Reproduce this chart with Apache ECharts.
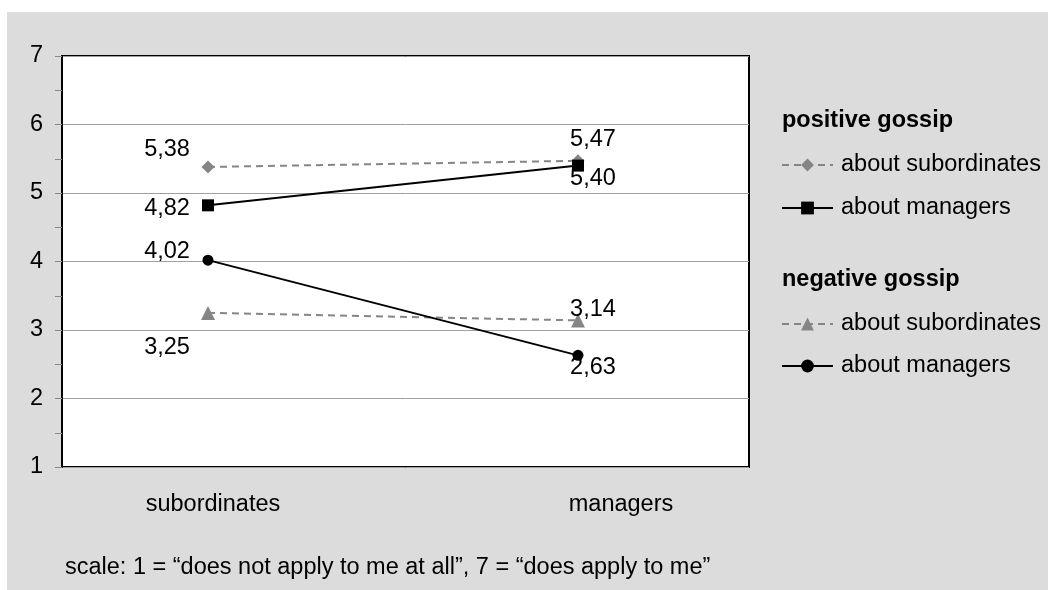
<!DOCTYPE html>
<html>
<head>
<meta charset="utf-8">
<script src="https://cdn.jsdelivr.net/npm/echarts@6/dist/echarts.min.js"></script>
<style>
  body { margin: 0; background: #fff; }
  #chart { position: absolute; left: 7px; top: 12px; width: 1041px; height: 578px; }
</style>
</head>
<body>
<div id="chart"></div>
<script>
// categories on the x axis
var categories = ["subordinates", "managers"];
// mean values per series (subordinates, managers)
var posAboutSubs = [5.38, 5.47];
var posAboutMgrs = [4.82, 5.40];
var negAboutSubs = [3.25, 3.14];
var negAboutMgrs = [4.02, 2.63];
var yTicks = [1, 2, 3, 4, 5, 6, 7];

var font = "Liberation Sans, Arial, sans-serif";
var fs = 23.5;

// label offsets (dx, dy) from each marker
var offPosSubs = [[-41, -17], [15, -21]];
var offPosMgrs = [[-41, 3], [15, 13]];
var offNegSubs = [[-41, 35], [15, -11]];
var offNegMgrs = [[-41, -9], [15, 12]];

function fmt(v) {
  return v.toFixed(2).replace(".", ",");
}

function points(vals, offs) {
  return vals.map(function (v, i) {
    return {
      value: [i, v],
      label: { offset: offs[i] }
    };
  });
}

function series(name, vals, offs, color, dashed, symbol, size) {
  return {
    type: "line",
    name: name,
    data: points(vals, offs),
    symbol: symbol,
    symbolSize: size,
    itemStyle: { color: color },
    lineStyle: { color: color, width: 2, type: dashed ? [7, 5] : "solid" },
    label: {
      show: true,
      position: "inside",
      color: "#000",
      fontFamily: font,
      fontSize: fs,
      formatter: function (p) { return fmt(p.value[1]); }
    },
    emphasis: { disabled: true },
    animation: false
  };
}

var chart = echarts.init(document.getElementById("chart"));

var legendText = { fontFamily: font, fontSize: fs, color: "#000", padding: [0, 0, 0, 3] };

var option = {
  backgroundColor: "#dcdcdc",
  textStyle: { fontFamily: font },
  title: [
    {
      text: "positive gossip",
      left: 770, top: 92,
      textStyle: { fontFamily: font, fontSize: fs, fontWeight: "bold", color: "#000" }
    },
    {
      text: "negative gossip",
      left: 770, top: 251,
      textStyle: { fontFamily: font, fontSize: fs, fontWeight: "bold", color: "#000" }
    },
    {
      text: "scale: 1 = \u201cdoes not apply to me at all\u201d, 7 = \u201cdoes apply to me\u201d",
      left: 53, top: 539,
      textStyle: { fontFamily: font, fontSize: fs, fontWeight: "normal", color: "#000" }
    }
  ],
  legend: [
    {
      orient: "vertical",
      left: 769, top: 136,
      itemWidth: 51, itemHeight: 16, itemGap: 19,
      data: ["pos|about subordinates", "pos|about managers"],
      formatter: function (n) { return n.split("|")[1]; },
      textStyle: legendText,
      selectedMode: false
    },
    {
      orient: "vertical",
      left: 769, top: 295,
      itemWidth: 51, itemHeight: 16, itemGap: 18,
      data: ["neg|about subordinates", "neg|about managers"],
      formatter: function (n) { return n.split("|")[1]; },
      textStyle: legendText,
      selectedMode: false
    }
  ],
  grid: {
    left: 55, top: 44, width: 687, height: 411,
    show: true,
    backgroundColor: "#fff",
    borderColor: "#000",
    borderWidth: 2
  },
  xAxis: {
    type: "value",
    min: -0.3946,
    max: 1.4622,
    axisLine: { show: false },
    axisTick: { show: false },
    splitLine: { show: false },
    axisLabel: {
      customValues: [0, 1],
      margin: 26,
      color: "#000",
      fontFamily: font,
      fontSize: fs,
      formatter: function (v) {
        var i = Math.round(v);
        return i === 0 ? "{a|" + categories[0] + "}" : "{b|" + categories[1] + "}";
      },
      rich: {
        a: { fontFamily: font, fontSize: fs, color: "#000", padding: [0, 0, 0, 10] },
        b: { fontFamily: font, fontSize: fs, color: "#000", padding: [0, 0, 0, 86] }
      }
    }
  },
  yAxis: {
    type: "value",
    min: yTicks[0],
    max: yTicks[yTicks.length - 1],
    interval: 1,
    axisLine: { show: true, onZero: false, lineStyle: { color: "#000", width: 2 } },
    axisTick: { show: true, length: 7, lineStyle: { color: "#888" } },
    minorTick: { show: true, splitNumber: 2, length: 7, lineStyle: { color: "#888" } },
    splitLine: { show: true, lineStyle: { color: "#a0a0a0", width: 1 } },
    axisLabel: { margin: 19, color: "#000", fontFamily: font, fontSize: fs }
  },
  series: [
    series("pos|about subordinates", posAboutSubs, offPosSubs, "#858585", true, "diamond", 13),
    series("pos|about managers", posAboutMgrs, offPosMgrs, "#000", false, "rect", 12),
    series("neg|about subordinates", negAboutSubs, offNegSubs, "#858585", true, "triangle", 14),
    series("neg|about managers", negAboutMgrs, offNegMgrs, "#000", false, "circle", 11)
  ]
};

chart.setOption(option);
</script>
</body>
</html>
